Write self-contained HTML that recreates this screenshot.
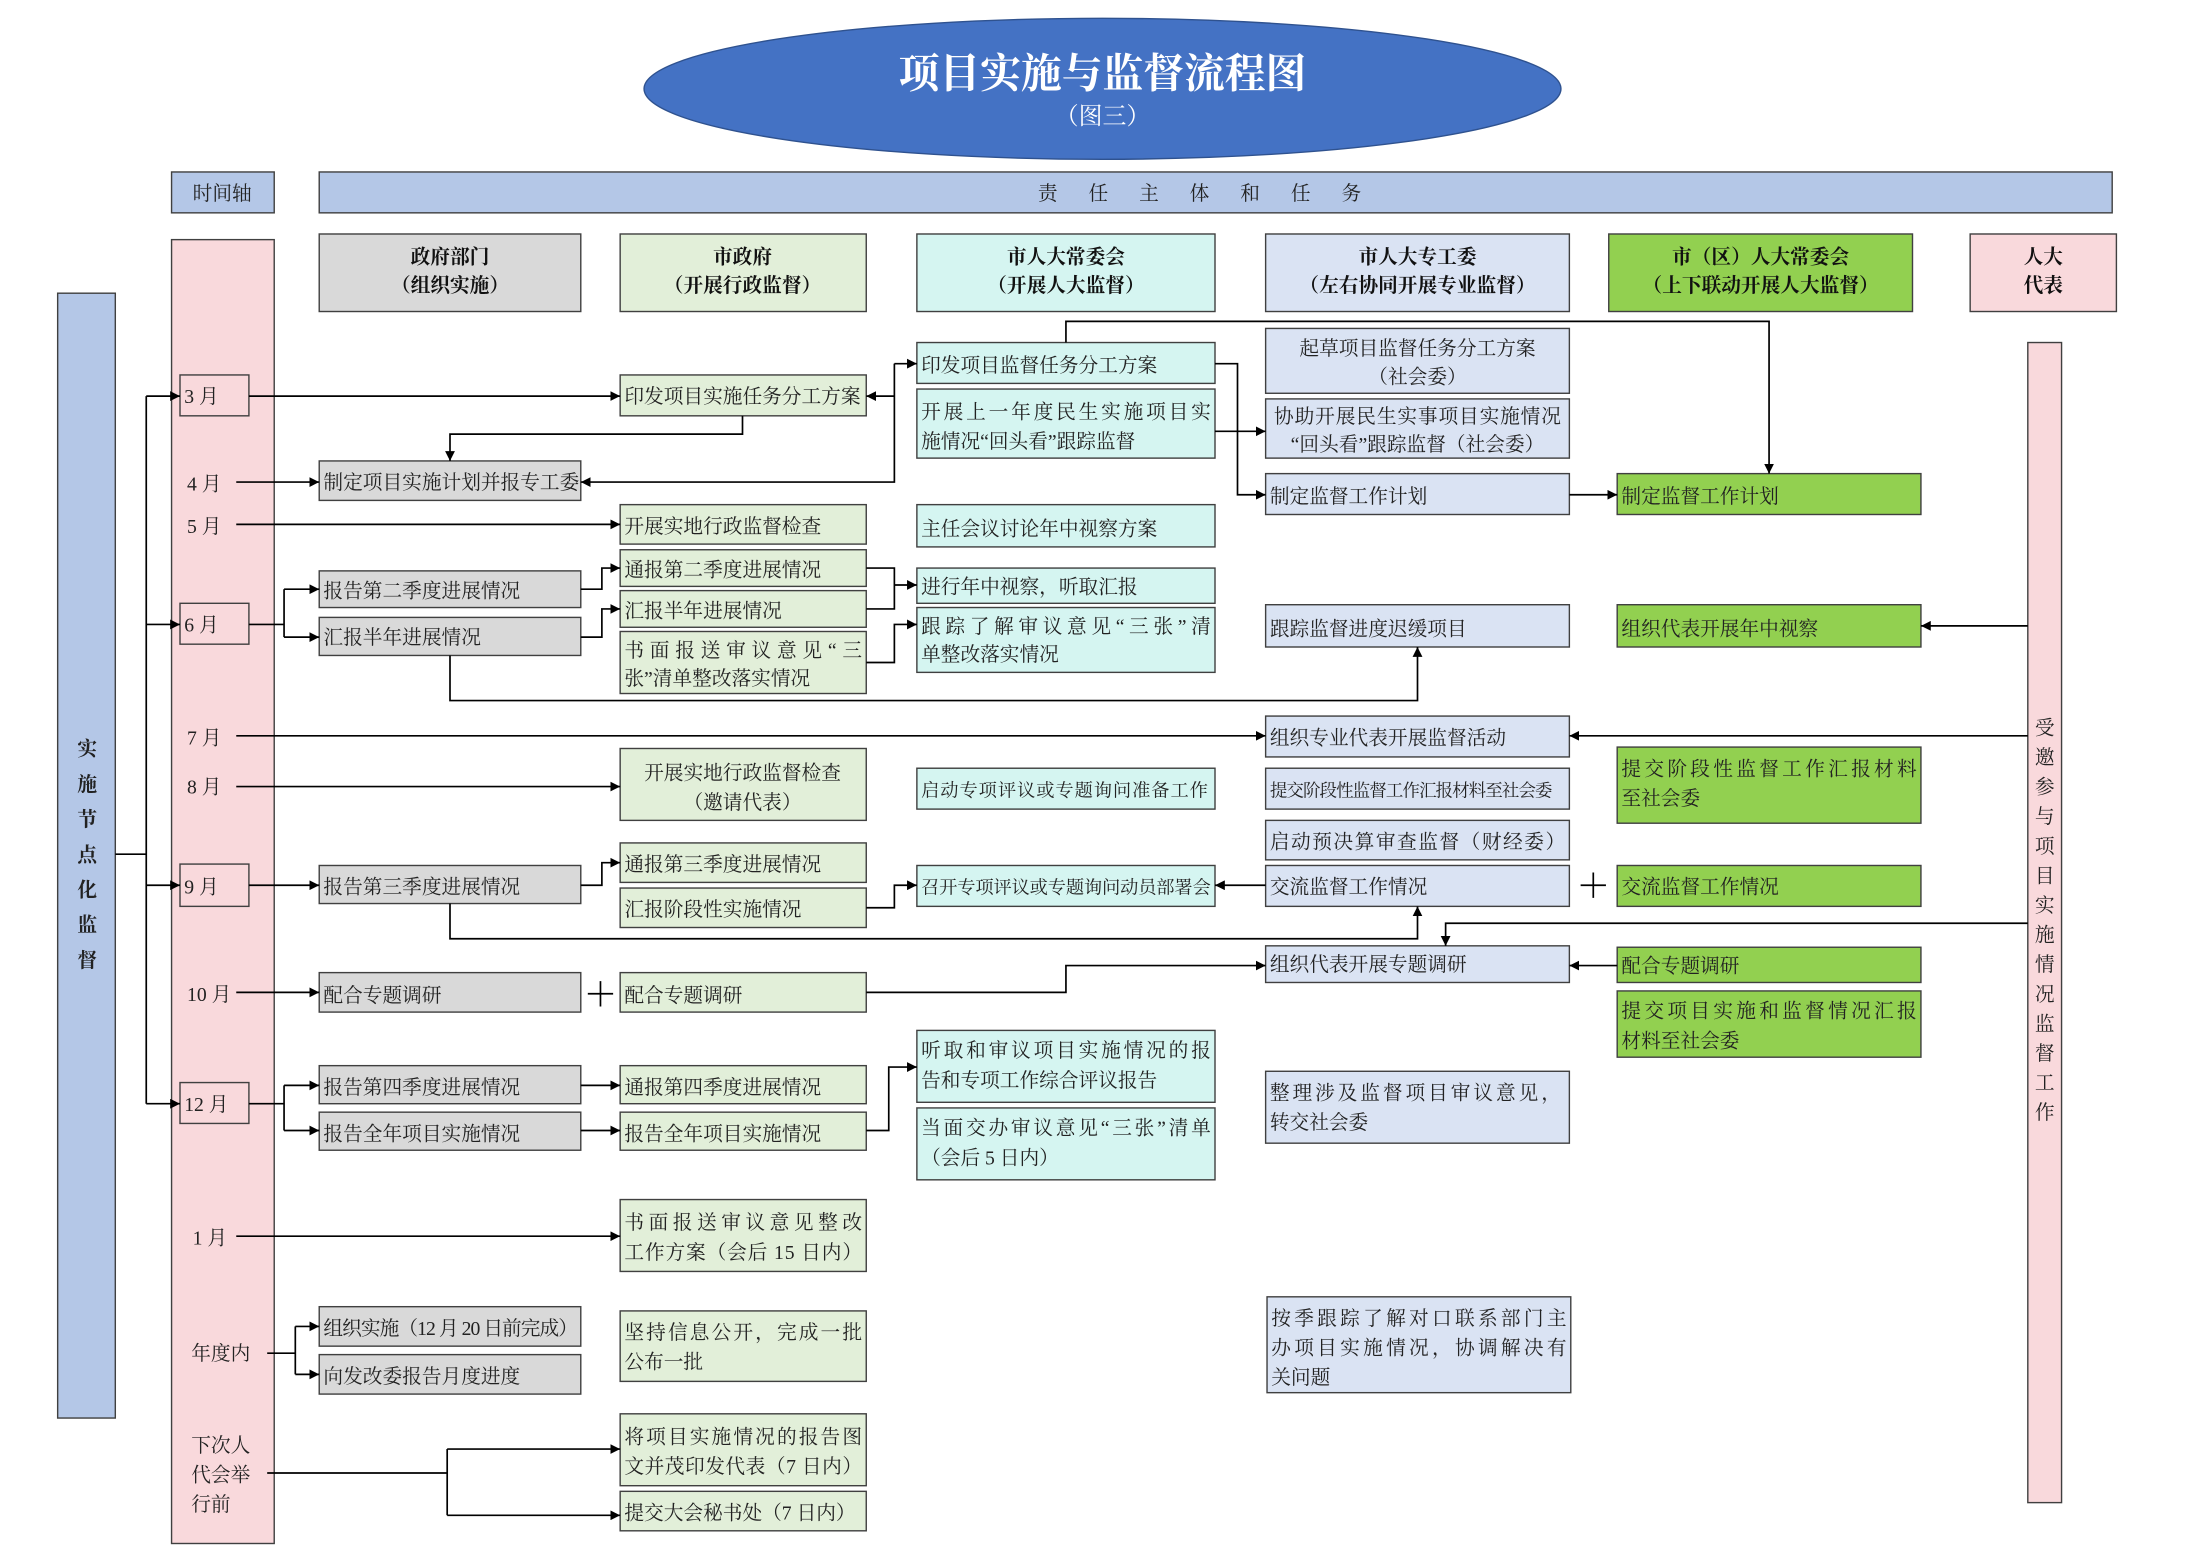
<!DOCTYPE html>
<html><head><meta charset="utf-8"><style>html,body{margin:0;padding:0;background:#fff}svg{display:block}
text{font-family:"Liberation Serif","Noto Serif CJK SC",serif;font-size:14px;fill:#222}
.b{stroke:#404040;stroke-width:1}
.l{stroke:#000;stroke-width:1.2;fill:none}
.h text{font-weight:bold;fill:#111}
</style></head><body>
<svg width="2205" height="1559" viewBox="0 0 1568 1106" preserveAspectRatio="none" xmlns="http://www.w3.org/2000/svg">
<defs><marker id="a" viewBox="0 0 10 10" refX="10" refY="5" markerWidth="7" markerHeight="7" markerUnits="userSpaceOnUse" orient="auto"><path d="M0,0L10,5L0,10z" fill="#000"/></marker></defs>
<ellipse cx="784" cy="63" rx="326" ry="50" fill="#4472c4" stroke="#2f528f"/>
<text x="784" y="62" text-anchor="middle" style="font-size:29px;font-weight:bold;fill:#fff">项目实施与监督流程图</text>
<text x="784" y="88" text-anchor="middle" style="font-size:17px;fill:#fff">（图三）</text>
<rect x="122" y="122" width="73" height="29" fill="#b4c7e7" class="b"/>
<text x="158" y="142" text-anchor="middle">时间轴</text>
<rect x="227" y="122" width="1275" height="29" fill="#b4c7e7" class="b"/>
<text x="864" y="142" text-anchor="middle" style="letter-spacing:22px">责任主体和任务</text>
<rect x="122" y="170" width="73" height="925" fill="#f9d9dc" class="b"/>
<rect x="41" y="208" width="41" height="798" fill="#b4c7e7" class="b"/>
<g style="font-size:18px;font-weight:bold" text-anchor="middle">
<text x="62" y="536">实</text><text x="62" y="561">施</text><text x="62" y="586">节</text><text x="62" y="611">点</text><text x="62" y="636">化</text><text x="62" y="661">监</text><text x="62" y="686">督</text></g>
<rect x="1442" y="243" width="24" height="823" fill="#f9d9dc" class="b"/>
<g text-anchor="middle">
<text x="1454" y="521">受</text><text x="1454" y="542">邀</text><text x="1454" y="563">参</text><text x="1454" y="584">与</text><text x="1454" y="605">项</text><text x="1454" y="626">目</text><text x="1454" y="647">实</text><text x="1454" y="668">施</text><text x="1454" y="689">情</text><text x="1454" y="710">况</text><text x="1454" y="731">监</text><text x="1454" y="752">督</text><text x="1454" y="773">工</text><text x="1454" y="794">作</text></g>
<g text-anchor="middle" class="h">
<rect x="227" y="166" width="186" height="55" fill="#d9d9d9" class="b"/><text x="320" y="187">政府部门</text><text x="320" y="207">（组织实施）</text>
<rect x="441" y="166" width="175" height="55" fill="#e2efd9" class="b"/><text x="528" y="187">市政府</text><text x="528" y="207">（开展行政监督）</text>
<rect x="652" y="166" width="212" height="55" fill="#d5f5f1" class="b"/><text x="758" y="187">市人大常委会</text><text x="758" y="207">（开展人大监督）</text>
<rect x="900" y="166" width="216" height="55" fill="#dae3f3" class="b"/><text x="1008" y="187">市人大专工委</text><text x="1008" y="207">（左右协同开展专业监督）</text>
<rect x="1144" y="166" width="216" height="55" fill="#92d050" class="b"/><text x="1252" y="187">市（区）人大常委会</text><text x="1252" y="207">（上下联动开展人大监督）</text>
<rect x="1401" y="166" width="104" height="55" fill="#f9d9dc" class="b"/><text x="1453" y="187">人大</text><text x="1453" y="207">代表</text>
</g>
<rect x="128" y="266" width="49" height="29" fill="#f9d9dc" class="b"/><text x="131" y="286">3 月</text>
<text x="133" y="348">4 月</text><text x="133" y="378">5 月</text>
<rect x="128" y="428" width="49" height="29" fill="#f9d9dc" class="b"/><text x="131" y="448">6 月</text>
<text x="133" y="528">7 月</text><text x="133" y="563">8 月</text>
<rect x="128" y="613" width="49" height="30" fill="#f9d9dc" class="b"/><text x="131" y="634">9 月</text>
<text x="133" y="710">10 月</text>
<rect x="128" y="768" width="49" height="29" fill="#f9d9dc" class="b"/><text x="131" y="788">12 月</text>
<text x="137" y="883">1 月</text><text x="136" y="965">年度内</text>
<text x="136" y="1030">下次人</text><text x="136" y="1051">代会举</text><text x="136" y="1072">行前</text>
<g fill="#d9d9d9" class="b">
<rect x="227" y="327" width="186" height="28"/><rect x="227" y="405" width="186" height="26"/><rect x="227" y="438" width="186" height="27"/>
<rect x="227" y="614" width="186" height="27"/><rect x="227" y="690" width="186" height="28"/><rect x="227" y="756" width="186" height="27"/>
<rect x="227" y="789" width="186" height="27"/><rect x="227" y="927" width="186" height="28"/><rect x="227" y="961" width="186" height="28"/></g>
<text x="230" y="347">制定项目实施计划并报专工委</text><text x="230" y="424">报告第二季度进展情况</text><text x="230" y="457">汇报半年进展情况</text>
<text x="230" y="634">报告第三季度进展情况</text><text x="230" y="711">配合专题调研</text><text x="230" y="776">报告第四季度进展情况</text>
<text x="230" y="809">报告全年项目实施情况</text><text x="230" y="947" textLength="181">组织实施（12 月 20 日前完成）</text><text x="230" y="981">向发改委报告月度进度</text>
<g fill="#e2efd9" class="b">
<rect x="441" y="266" width="175" height="29"/><rect x="441" y="358" width="175" height="28"/><rect x="441" y="390" width="175" height="26"/>
<rect x="441" y="419" width="175" height="26"/><rect x="441" y="448" width="175" height="44"/><rect x="441" y="531" width="175" height="51"/>
<rect x="441" y="598" width="175" height="28"/><rect x="441" y="630" width="175" height="28"/><rect x="441" y="690" width="175" height="28"/>
<rect x="441" y="756" width="175" height="27"/><rect x="441" y="789" width="175" height="27"/><rect x="441" y="851" width="175" height="51"/>
<rect x="441" y="930" width="175" height="50"/><rect x="441" y="1003" width="175" height="51"/><rect x="441" y="1058" width="175" height="28"/></g>
<text x="444" y="286">印发项目实施任务分工方案</text><text x="444" y="378">开展实地行政监督检查</text><text x="444" y="409">通报第二季度进展情况</text>
<text x="444" y="438">汇报半年进展情况</text><text x="444" y="466" textLength="169">书面报送审议意见“三</text><text x="444" y="486">张”清单整改落实情况</text>
<text x="528" y="553" text-anchor="middle">开展实地行政监督检查</text><text x="528" y="574" text-anchor="middle">（邀请代表）</text>
<text x="444" y="618">通报第三季度进展情况</text><text x="444" y="650">汇报阶段性实施情况</text><text x="444" y="711">配合专题调研</text>
<text x="444" y="776">通报第四季度进展情况</text><text x="444" y="809">报告全年项目实施情况</text>
<text x="444" y="872" textLength="169">书面报送审议意见整改</text><text x="444" y="893" textLength="169">工作方案（会后 15 日内）</text>
<text x="444" y="950" textLength="169">坚持信息公开，完成一批</text><text x="444" y="971">公布一批</text>
<text x="444" y="1024" textLength="169">将项目实施情况的报告图</text><text x="444" y="1045" textLength="169">文并茂印发代表（7 日内）</text>
<text x="444" y="1078">提交大会秘书处（7 日内）</text>
<g fill="#d5f5f1" class="b">
<rect x="652" y="243" width="212" height="29"/><rect x="652" y="276" width="212" height="49"/><rect x="652" y="358" width="212" height="30"/>
<rect x="652" y="403" width="212" height="25"/><rect x="652" y="431" width="212" height="46"/><rect x="652" y="545" width="212" height="29"/>
<rect x="652" y="614" width="212" height="29"/><rect x="652" y="731" width="212" height="51"/><rect x="652" y="786" width="212" height="51"/></g>
<text x="655" y="264">印发项目监督任务分工方案</text><text x="655" y="297" textLength="206">开展上一年度民生实施项目实</text><text x="655" y="318">施情况“回头看”跟踪监督</text>
<text x="655" y="380">主任会议讨论年中视察方案</text><text x="655" y="421">进行年中视察，听取汇报</text>
<text x="655" y="449" textLength="206">跟踪了解审议意见“三张”清</text><text x="655" y="469">单整改落实情况</text>
<text x="655" y="565" style="font-size:13px" textLength="204">启动专项评议或专题询问准备工作</text>
<text x="655" y="634" style="font-size:13px" textLength="206">召开专项评议或专题询问动员部署会</text>
<text x="655" y="750" textLength="206">听取和审议项目实施情况的报</text><text x="655" y="771">告和专项工作综合评议报告</text>
<text x="655" y="805" textLength="206">当面交办审议意见“三张”清单</text><text x="655" y="826">（会后 5 日内）</text>
<g fill="#dae3f3" class="b">
<rect x="900" y="233" width="216" height="46"/><rect x="900" y="283" width="216" height="42"/><rect x="900" y="336" width="216" height="29"/>
<rect x="900" y="429" width="216" height="30"/><rect x="900" y="508" width="216" height="29"/><rect x="900" y="545" width="216" height="29"/>
<rect x="900" y="582" width="216" height="28"/><rect x="900" y="614" width="216" height="29"/><rect x="900" y="671" width="216" height="26"/>
<rect x="900" y="760" width="216" height="51"/><rect x="901" y="920" width="216" height="68"/></g>
<text x="1008" y="252" text-anchor="middle">起草项目监督任务分工方案</text><text x="1008" y="272" text-anchor="middle">（社会委）</text>
<text x="1008" y="300" text-anchor="middle" textLength="204">协助开展民生实事项目实施情况</text><text x="1008" y="320" text-anchor="middle">“回头看”跟踪监督（社会委）</text>
<text x="903" y="357">制定监督工作计划</text><text x="903" y="451">跟踪监督进度迟缓项目</text><text x="903" y="528">组织专业代表开展监督活动</text>
<text x="903" y="565" style="font-size:12.5px" textLength="201">提交阶段性监督工作汇报材料至社会委</text>
<text x="903" y="602" textLength="210">启动预决算审查监督（财经委）</text><text x="903" y="634">交流监督工作情况</text>
<text x="903" y="689">组织代表开展专题调研</text>
<text x="903" y="780" textLength="207">整理涉及监督项目审议意见，</text><text x="903" y="801">转交社会委</text>
<text x="904" y="940" textLength="210">按季跟踪了解对口联系部门主</text><text x="904" y="961" textLength="210">办项目实施情况，协调解决有</text><text x="904" y="982">关问题</text>
<g fill="#92d050" class="b">
<rect x="1150" y="336" width="216" height="29"/><rect x="1150" y="429" width="216" height="30"/><rect x="1150" y="530" width="216" height="54"/>
<rect x="1150" y="614" width="216" height="29"/><rect x="1150" y="672" width="216" height="25"/><rect x="1150" y="703" width="216" height="47"/></g>
<text x="1153" y="357">制定监督工作计划</text><text x="1153" y="451">组织代表开展年中视察</text>
<text x="1153" y="550" textLength="210">提交阶段性监督工作汇报材料</text><text x="1153" y="571">至社会委</text>
<text x="1153" y="634">交流监督工作情况</text><text x="1153" y="690">配合专题调研</text>
<text x="1153" y="722" textLength="210">提交项目实施和监督情况汇报</text><text x="1153" y="743">材料至社会委</text>
<g class="l">
<path d="M82,606H104"/><path d="M104,281V783"/>
<path d="M104,281H128" marker-end="url(#a)"/><path d="M104,443H128" marker-end="url(#a)"/><path d="M104,628H128" marker-end="url(#a)"/><path d="M104,783H128" marker-end="url(#a)"/>
<path d="M177,281H441" marker-end="url(#a)"/>
<path d="M528,295V308H320V327" marker-end="url(#a)"/>
<path d="M168,342H227" marker-end="url(#a)"/>
<path d="M636,258V342H413" marker-end="url(#a)"/><path d="M636,258H652" marker-end="url(#a)"/><path d="M636,281H616" marker-end="url(#a)"/>
<path d="M758,243V228H1258V336" marker-end="url(#a)"/>
<path d="M864,258H880V351H900" marker-end="url(#a)"/><path d="M864,306H900" marker-end="url(#a)"/>
<path d="M1116,351H1150" marker-end="url(#a)"/>
<path d="M168,372H441" marker-end="url(#a)"/>
<path d="M177,443H202"/><path d="M202,418V452"/><path d="M202,418H227" marker-end="url(#a)"/><path d="M202,452H227" marker-end="url(#a)"/>
<path d="M413,418H428V403H441" marker-end="url(#a)"/><path d="M413,452H428V432H441" marker-end="url(#a)"/>
<path d="M616,403H636V432H616"/><path d="M636,415H652" marker-end="url(#a)"/>
<path d="M616,470H636V443H652" marker-end="url(#a)"/>
<path d="M320,465V497H1008V459" marker-end="url(#a)"/>
<path d="M1442,444H1366" marker-end="url(#a)"/>
<path d="M168,522H900" marker-end="url(#a)"/><path d="M1442,522H1116" marker-end="url(#a)"/>
<path d="M168,558H441" marker-end="url(#a)"/>
<path d="M177,628H227" marker-end="url(#a)"/>
<path d="M413,628H428V612H441" marker-end="url(#a)"/>
<path d="M616,644H636V628H652" marker-end="url(#a)"/>
<path d="M900,628H864" marker-end="url(#a)"/>
<path d="M1124,628H1142M1133,619V637"/>
<path d="M320,641V666H1008V643" marker-end="url(#a)"/>
<path d="M1442,655H1028V671" marker-end="url(#a)"/>
<path d="M168,704H227" marker-end="url(#a)"/>
<path d="M418,705H436M427,696V714"/>
<path d="M616,704H758V685H900" marker-end="url(#a)"/>
<path d="M1150,685H1116" marker-end="url(#a)"/>
<path d="M177,783H202"/><path d="M202,770V802"/><path d="M202,770H227" marker-end="url(#a)"/><path d="M202,802H227" marker-end="url(#a)"/>
<path d="M413,770H441" marker-end="url(#a)"/><path d="M413,802H441" marker-end="url(#a)"/>
<path d="M616,802H632V757H652" marker-end="url(#a)"/>
<path d="M168,877H441" marker-end="url(#a)"/>
<path d="M190,960H210"/><path d="M210,941V975"/><path d="M210,941H227" marker-end="url(#a)"/><path d="M210,975H227" marker-end="url(#a)"/>
<path d="M190,1045H318"/><path d="M318,1028V1075"/><path d="M318,1028H441" marker-end="url(#a)"/><path d="M318,1075H441" marker-end="url(#a)"/>
</g>
</svg>
</body></html>
